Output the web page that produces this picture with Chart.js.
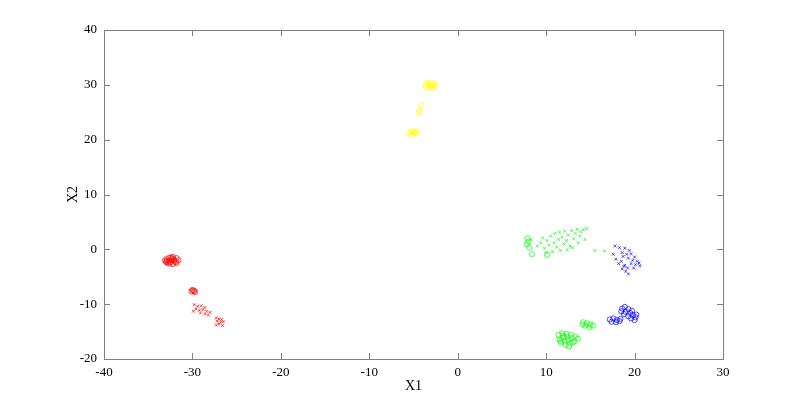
<!DOCTYPE html>
<html>
<head>
<meta charset="utf-8">
<script src="https://cdn.jsdelivr.net/npm/chart.js@4/dist/chart.umd.min.js"></script>
<style>
  html, body { margin: 0; padding: 0; background: #fff; }
  #wrap { width: 800px; height: 405px; }
</style>
</head>
<body>
<div id="wrap"><canvas id="scatter"></canvas></div>
<script>
'use strict';

// tick labels
let xTicks = [-40, -30, -20, -10, 0, 10, 20, 30];
let yTicks = [-20, -10, 0, 10, 20, 30, 40];

// point groups, [x1, x2]
let redCircles = [
  [-32.9, -1.8], [-32.6, -1.5], [-32.2, -1.4], [-31.8, -1.6], [-31.6, -2.0],
  [-31.8, -2.5], [-32.2, -2.7], [-32.6, -2.6], [-33.0, -2.3], [-33.1, -2.0],
  [-32.4, -2.0], [-32.0, -2.1], [-32.7, -2.1], [-32.3, -1.7], [-31.9, -2.3],
  [-32.5, -2.4], [-32.9, -2.2], [-32.1, -1.9], [-32.4, -1.5], [-32.8, -2.5],
  [-30.0, -7.4], [-29.8, -7.6], [-30.1, -7.7], [-29.9, -7.5], [-29.7, -7.8]
];
let redCrosses = [
  [-29.8, -10.1], [-29.4, -10.4], [-29.0, -10.3], [-28.6, -10.6], [-29.6, -10.9],
  [-29.2, -11.1], [-28.8, -11.0], [-28.4, -11.3], [-29.1, -11.6], [-28.6, -11.8],
  [-28.2, -12.0], [-29.9, -11.3], [-28.0, -11.5], [-27.3, -12.5], [-27.0, -12.7],
  [-26.7, -12.8], [-27.2, -13.1], [-26.8, -13.3], [-27.0, -13.6], [-26.6, -13.9],
  [-27.3, -13.8], [-26.5, -13.2]
];
let yellowCircles = [
  [-3.6, 30.2], [-3.3, 30.4], [-2.9, 30.4], [-2.6, 30.1], [-2.5, 29.7],
  [-2.8, 29.4], [-3.2, 29.4], [-3.6, 29.6], [-3.1, 29.9], [-2.8, 30.0],
  [-3.4, 30.0], [-4.1, 26.3], [-4.4, 24.9], [-4.3, 25.2],
  [-5.5, 21.3], [-5.2, 21.6], [-4.9, 21.4], [-4.7, 21.1], [-5.3, 21.0],
  [-5.0, 21.2], [-4.6, 21.5]
];
let greenCrosses = [
  [8.3, 1.8], [9.0, 0.6], [9.4, 1.2], [9.8, 0.2], [10.1, 1.6], [10.3, 0.8],
  [10.5, 2.4], [10.7, -0.4], [10.9, 1.2], [11.0, 2.9], [11.2, 0.4], [11.4, 1.8],
  [11.6, -0.2], [11.8, 2.2], [12.0, 1.0], [12.1, 3.3], [12.3, 1.6], [12.5, 2.6],
  [12.7, 0.6], [12.9, 3.4], [13.1, 1.9], [13.3, 2.9], [13.5, 3.7], [13.6, 1.2],
  [13.9, 3.2], [14.2, 3.6], [14.4, 1.8], [13.0, 0.3], [11.5, 3.1], [10.0, -0.6],
  [9.6, 2.1], [12.4, -0.1], [14.6, 3.8], [15.5, -0.2], [16.6, -0.3], [13.8, 2.4]
];
let greenCircles = [
  [7.9, 2.0], [8.0, 1.4], [7.8, 0.9], [8.1, 0.3], [8.4, -0.9], [10.1, -1.0],
  [11.4, -15.6], [11.8, -15.3], [12.3, -15.4], [12.8, -15.6], [13.3, -15.9],
  [13.6, -16.3], [13.2, -16.8], [12.7, -17.2], [12.2, -17.4], [11.7, -17.0],
  [11.5, -16.4], [12.0, -16.1], [12.5, -16.5], [12.9, -16.2], [12.1, -16.8],
  [11.9, -15.8], [13.0, -17.0], [12.4, -15.9], [11.6, -16.7], [12.6, -17.7],
  [14.2, -13.3], [14.6, -13.5], [15.0, -13.7], [14.4, -13.9], [14.9, -14.2],
  [15.3, -13.9], [14.1, -13.7]
];
let blueCrosses = [
  [17.8, 0.6], [18.3, 0.3], [18.9, 0.2], [19.4, -0.2], [18.6, -0.6], [19.1, -0.9],
  [19.6, -0.8], [20.0, -1.4], [19.3, -1.6], [18.7, -1.3], [19.8, -2.0], [20.3, -2.2],
  [19.6, -2.6], [20.1, -2.8], [20.5, -2.5], [18.5, -2.2], [18.9, -2.9], [19.2, -3.4],
  [18.6, -3.6], [19.0, -4.0], [19.3, -4.5], [18.8, -3.1], [17.9, -1.8], [17.6, -0.9],
  [20.6, -3.0], [19.9, -3.4], [18.2, -2.6]
];
let blueCircles = [
  [18.6, -10.8], [18.9, -10.5], [19.3, -10.9], [19.0, -11.4], [19.5, -11.6],
  [19.8, -12.0], [20.1, -12.4], [19.6, -12.6], [20.0, -12.9], [19.3, -12.2],
  [18.8, -11.8], [19.7, -11.2], [20.2, -11.9], [18.5, -11.3],
  [17.2, -12.8], [17.6, -12.6], [18.0, -12.9], [18.4, -12.7], [17.4, -13.2],
  [17.9, -13.3], [18.3, -13.1]
];

function toPoints(arr) {
  return arr.map(function (p) { return { x: p[0], y: p[1] }; });
}

function series(label, arr, color, shape) {
  return {
    label: label,
    data: toPoints(arr),
    borderColor: color,
    backgroundColor: 'rgba(0,0,0,0)',
    pointStyle: shape,
    pointRadius: shape === 'circle' ? 2.6 : 2,
    borderWidth: 0.7,
    pointHoverRadius: 0
  };
}

// matlab style box with inward ticks
const boxPlugin = {
  id: 'box',
  afterDraw(chart) {
    const ctx = chart.ctx;
    const a = chart.chartArea;
    const xs = chart.scales.x;
    const ys = chart.scales.y;
    ctx.save();
    ctx.strokeStyle = '#808080';
    ctx.lineWidth = 1;
    ctx.strokeRect(Math.round(a.left) + 0.5, Math.round(a.top) + 0.5,
      Math.round(a.right - a.left), Math.round(a.bottom - a.top));
    ctx.beginPath();
    for (let i = 0; i < xTicks.length; i++) {
      let px = Math.round(xs.getPixelForValue(xTicks[i])) + 0.5;
      ctx.moveTo(px, a.bottom); ctx.lineTo(px, a.bottom - 6);
      ctx.moveTo(px, a.top); ctx.lineTo(px, a.top + 6);
    }
    for (let i = 0; i < yTicks.length; i++) {
      let py = Math.round(ys.getPixelForValue(yTicks[i])) + 0.5;
      ctx.moveTo(a.left, py); ctx.lineTo(a.left + 6, py);
      ctx.moveTo(a.right, py); ctx.lineTo(a.right - 6, py);
    }
    ctx.stroke();
    ctx.restore();
  }
};

const font = { family: '"Liberation Serif", "Times New Roman", serif', size: 13 };

const ctx = document.getElementById('scatter');
new Chart(ctx, {
  type: 'scatter',
  data: {
    datasets: [
      series('red o', redCircles, '#ff0000', 'circle'),
      series('red x', redCrosses, '#ff0000', 'crossRot'),
      series('yellow o', yellowCircles, '#ffff00', 'circle'),
      series('green x', greenCrosses, '#00ff00', 'crossRot'),
      series('green o', greenCircles, '#00ff00', 'circle'),
      series('blue x', blueCrosses, '#0000ff', 'crossRot'),
      series('blue o', blueCircles, '#0000ff', 'circle')
    ]
  },
  options: {
    responsive: true,
    maintainAspectRatio: false,
    animation: false,
    layout: { padding: { left: 65, top: 30, right: 77, bottom: 10 } },
    plugins: { legend: { display: false }, tooltip: { enabled: false } },
    scales: {
      x: {
        type: 'linear',
        min: -40, max: 30,
        afterBuildTicks: function (scale) {
          scale.ticks = xTicks.map(function (v) { return { value: v }; });
        },
        afterFit: function (scale) { scale.height = 36; },
        grid: { drawOnChartArea: false, drawTicks: false },
        border: { display: false },
        ticks: { color: '#000', font: font, padding: 6, maxRotation: 0 },
        title: { display: true, text: 'X1', color: '#000', font: { family: font.family, size: 14 }, padding: 0 }
      },
      y: {
        type: 'linear',
        min: -20, max: 40,
        afterBuildTicks: function (scale) {
          scale.ticks = yTicks.map(function (v) { return { value: v }; });
        },
        afterFit: function (scale) { scale.width = 39; },
        grid: { drawOnChartArea: false, drawTicks: false },
        border: { display: false },
        ticks: { color: '#000', font: font, padding: 7 },
        title: { display: true, text: 'X2', color: '#000', font: { family: font.family, size: 14 }, padding: 0 }
      }
    }
  },
  plugins: [boxPlugin]
});
</script>
</body>
</html>
